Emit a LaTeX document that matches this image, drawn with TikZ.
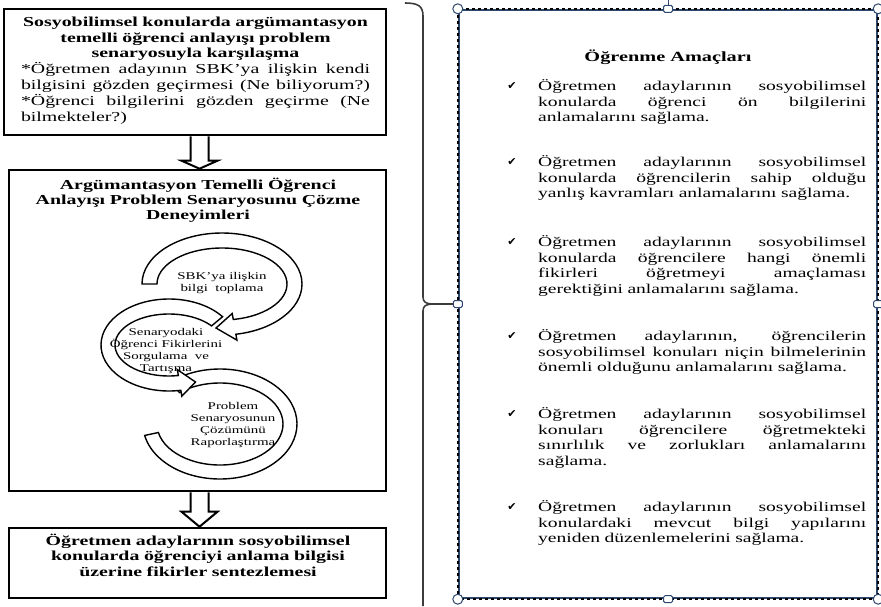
\documentclass[tikz,border=0pt]{standalone}
\usepackage{fontspec}
\setmainfont[FakeStretch=1.45]{Liberation Serif}
\newfontfamily\symfont{DejaVu Sans}
\usetikzlibrary{calc}
\definecolor{selblue}{RGB}{45,72,110}
\definecolor{bracegray}{RGB}{60,60,60}
\tikzset{
  box/.style={draw=black, line width=2.6pt, fill=white, inner sep=0pt},
  hollow/.style={draw=black, line width=2pt, line join=miter},
  blockarc/.style={draw=black, line width=1.4pt, fill=white},
  arclabel/.style={align=center, font=\fontsize{10.3}{11.7}\selectfont, inner sep=0pt},
  boxtext/.style={anchor=north, text width=349pt, align=center, inner sep=0pt, font=\fontsize{13.7}{15.8}\selectfont},
  goal/.style={anchor=north west, text width=328pt, align=left, inner sep=0pt, font=\fontsize{13.5}{15.6}\selectfont},
  tick/.style={anchor=center, inner sep=0pt, font=\symfont\fontsize{11}{11}\selectfont},
  handlecirc/.style={circle, draw=selblue, line width=1pt, fill=white, minimum size=10pt, inner sep=0pt},
  handlesq/.style={rectangle, rounded corners=1.5pt, draw=selblue, line width=1pt, fill=white, minimum width=9pt, minimum height=7pt, inner sep=0pt},
}
\newcommand{\jl}[1]{\makebox[\hsize][s]{\spaceskip=\fontdimen2\font plus 1fil\relax #1}\\}
\begin{document}
\begin{tikzpicture}[x=1pt,y=-1pt]
\useasboundingbox (0,0) rectangle (881,606);
% ---------- left column boxes
\node[box, minimum width=382pt, minimum height=126pt] (b1) at (195,72) {};
\node[box, minimum width=377pt, minimum height=321pt] (b2) at (197.5,330.5) {};
\node[box, minimum width=377pt, minimum height=70pt] (b3) at (197.5,563) {};
% ---------- hollow arrows
\coordinate (a1s) at ($(b1.south)+(4.5,0)$);
\coordinate (a1e) at ($(b2.north)+(2,0)$);
\draw[hollow] ($(a1s)+(-9,0)$) -- ($(a1e)+(-9,-8)$) -- ($(a1e)+(-18,-8)$) -- (a1e) -- ($(a1e)+(18,-8)$) -- ($(a1e)+(9,-8)$) -- ($(a1s)+(9,0)$);
\coordinate (a2s) at ($(b2.south)+(2,0)$);
\coordinate (a2e) at ($(b3.north)+(2,0)$);
\draw[hollow] ($(a2s)+(-9,0)$) -- ($(a2e)+(-9,-15)$) -- ($(a2e)+(-18,-15)$) -- (a2e) -- ($(a2e)+(18,-15)$) -- ($(a2e)+(9,-15)$) -- ($(a2s)+(9,0)$);
% ---------- box texts
\node[boxtext] (t1) at (195.5,13) {%
\textbf{\rule{0pt}{13pt}Sosyobilimsel konularda argümantasyon}\\
\textbf{temelli öğrenci anlayışı problem}\\
\textbf{senaryosuyla karşılaşma}\\
\jl{*Öğretmen adayının SBK’ya ilişkin kendi}
\jl{bilgisini gözden geçirmesi (Ne biliyorum?)}
\jl{*Öğrenci bilgilerini gözden geçirme (Ne}
\makebox[\hsize][l]{bilmekteler?)}};
\node[boxtext, font=\bfseries\fontsize{13.7}{15}\selectfont] (t2) at (198,176) {%
\rule{0pt}{13pt}Argümantasyon Temelli Öğrenci\\
Anlayışı Problem Senaryosunu Çözme\\
Deneyimleri};
\node[boxtext, font=\bfseries\fontsize{13.7}{15.5}\selectfont] (t3) at (198,532) {%
\rule{0pt}{13pt}Öğretmen adaylarının sosyobilimsel\\
konularda öğrenciyi anlama bilgisi\\
üzerine fikirler sentezlemesi};
% ---------- cycle of block arcs
\draw[blockarc, shift={(220,424)}] (230:77 and 55) arc[start angle=230, end angle=528, x radius=77, y radius=55]
  -- (528:63 and 41) arc[start angle=528, end angle=230, x radius=63, y radius=41] -- cycle;
\draw[blockarc, shift={(169,345)}] (-38:68 and 46) arc[start angle=-38, end angle=-280, x radius=68, y radius=46]
  -- (12.8,51.2) -- (26.5,37) -- (8.3,24.6) -- (-280:54 and 31) arc[start angle=-280, end angle=-38, x radius=54, y radius=31] -- cycle;
\draw[blockarc, shift={(222,284)}] (180:80 and 51) arc[start angle=180, end angle=440, x radius=80, y radius=51]
  -- (14.9,56.1) -- (-6,44) -- (10.2,29.5) -- (440:65 and 36) arc[start angle=440, end angle=180, x radius=65, y radius=36] -- cycle;
\node[arclabel] (l1) at (222,283) {SBK’ya ilişkin\\bilgi\ \ toplama};
\node[arclabel] (l2) at (166,351) {Senaryodaki\\Öğrenci Fikirlerini\\Sorgulama\ \ ve\\Tartışma};
\node[arclabel] (l3) at (233,425) {Problem\\Senaryosunun\\Çözümünü\\Raporlaştırma};
% ---------- right box
\node[rectangle, draw=selblue, line width=2.4pt, minimum width=418pt, minimum height=588pt, inner sep=0pt] (goals) at (668,304) {};
\draw[black, line width=2.4pt, dash pattern=on 3pt off 3pt] (goals.north west) rectangle (goals.south east);
\node[anchor=base, inner sep=0pt, font=\bfseries\fontsize{14}{16}\selectfont] (gt) at (668,61) {Öğrenme Amaçları};
\node[tick] (k1) at (512,86) {✔};
\node[goal] (g1) at (538,77.5) {%
\jl{\rule{0pt}{13pt}Öğretmen adaylarının sosyobilimsel}
\jl{konularda öğrenci ön bilgilerini}
anlamalarını sağlama.};
\node[tick] (k2) at (512,162) {✔};
\node[goal] (g2) at (538,153.5) {%
\jl{\rule{0pt}{13pt}Öğretmen adaylarının sosyobilimsel}
\jl{konularda öğrencilerin sahip olduğu}
yanlış kavramları anlamalarını sağlama.};
\node[tick] (k3) at (512,242) {✔};
\node[goal] (g3) at (538,233.5) {%
\jl{\rule{0pt}{13pt}Öğretmen adaylarının sosyobilimsel}
\jl{konularda öğrencilere hangi önemli}
\jl{fikirleri öğretmeyi amaçlaması}
gerektiğini anlamalarını sağlama.};
\node[tick] (k4) at (512,336) {✔};
\node[goal] (g4) at (538,327.5) {%
\jl{\rule{0pt}{13pt}Öğretmen adaylarının, öğrencilerin}
\jl{sosyobilimsel konuları niçin bilmelerinin}
önemli olduğunu anlamalarını sağlama.};
\node[tick] (k5) at (512,414) {✔};
\node[goal] (g5) at (538,405.5) {%
\jl{\rule{0pt}{13pt}Öğretmen adaylarının sosyobilimsel}
\jl{konuları öğrencilere öğretmekteki}
\jl{sınırlılık ve zorlukları anlamalarını}
sağlama.};
\node[tick] (k6) at (512,507) {✔};
\node[goal] (g6) at (538,498.5) {%
\jl{\rule{0pt}{13pt}Öğretmen adaylarının sosyobilimsel}
\jl{konulardaki mevcut bilgi yapılarını}
yeniden düzenlemelerini sağlama.};
% ---------- selection handles
\coordinate (rot) at (668,0);
\draw[selblue, line width=1pt] (rot) -- (goals.north);
\node[handlecirc] (hnw) at (goals.north west) {};
\node[handlecirc] (hne) at (goals.north east) {};
\node[handlecirc] (hsw) at (goals.south west) {};
\node[handlecirc] (hse) at (goals.south east) {};
\node[handlesq] (hn) at (goals.north) {};
\node[handlesq] (hs) at (goals.south) {};
\node[handlesq] (hl) at (goals.west) {};
\node[handlesq] (hr) at (goals.east) {};
% ---------- brace
\coordinate (brtop) at (405,3);
\coordinate (brtip) at (433,304);
\coordinate (brbot) at (423,606);
\draw[bracegray, line width=1.6pt] (brtop) .. controls (418,3) and (423,6) .. (423,16) -- (423,297)
  .. controls (423,302) and (426,304) .. (brtip) .. controls (426,304) and (423,306) .. (423,311) -- (brbot);
\draw[bracegray, line width=1.2pt] (brtip) -- (hl.west);
\end{tikzpicture}
\end{document}
